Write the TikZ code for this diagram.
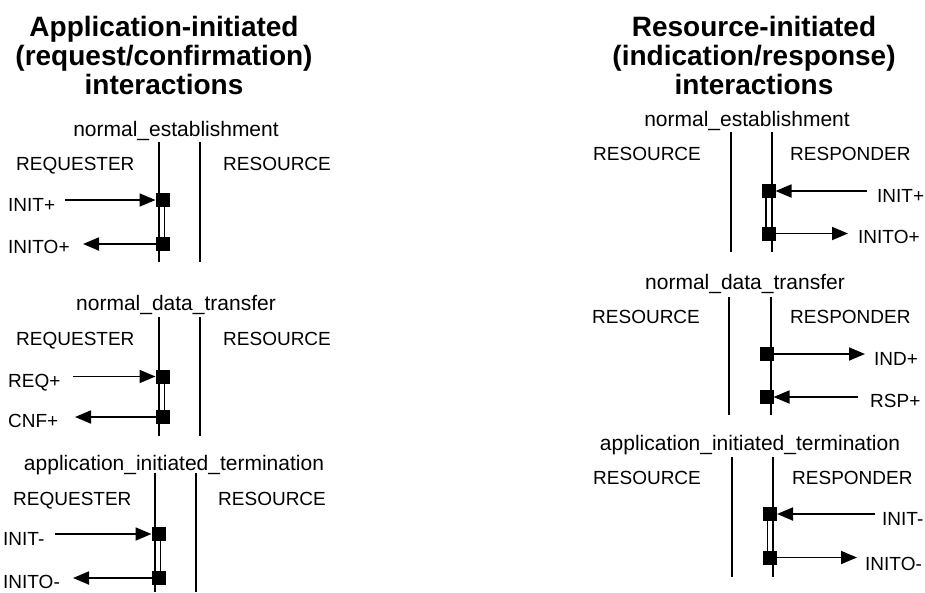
\documentclass[tikz,border=0pt]{standalone}
\usepackage{fontspec}
\setmainfont{Liberation Sans}
\usetikzlibrary{arrows.meta}

\tikzset{
  lifeline/.style={line width=1.8pt},
  dbl/.style={line width=1.5pt},
  port/.style={fill=black, draw=none, minimum size=14pt, inner sep=0pt, outer sep=0pt},
  msg/.style={line width=1.8pt, -{Triangle[length=16pt,width=13pt]}},
  lbl/.style={font=\fontsize{19}{22}\selectfont, anchor=base west, inner sep=0pt},
  phase/.style={font=\fontsize{21}{24}\selectfont, anchor=base, inner sep=0pt},
  head/.style={font=\fontsize{28}{29}\selectfont\bfseries, align=center, anchor=north, inner sep=0pt}
}

\begin{document}
\begin{tikzpicture}[x=1pt, y=-1pt]
\useasboundingbox (0,0) rectangle (925,592);

% ---------- column headings ----------
\node[head] (hleft) at (164,16) {Application-initiated\\(request/confirmation)\\interactions};
\node[head] (hright) at (754,16) {Resource-initiated\\(indication/response)\\interactions};

% ================= application-initiated side =================
% normal establishment
\node[phase] (ne1) at (176,136) {normal\_establishment};
\coordinate (ne1Lt) at (159,142); \coordinate (ne1Lb) at (159,262);
\coordinate (ne1Rt) at (200,142); \coordinate (ne1Rb) at (200,262);
\draw[lifeline] (ne1Lt) -- (ne1Lb);
\draw[lifeline] (ne1Rt) -- (ne1Rb);
\node[lbl] (ne1req) at (16,170) {REQUESTER};
\node[lbl] (ne1res) at (223,170) {RESOURCE};
\node[port] (a1) at (162.5,200) {};
\node[port] (a2) at (162.5,244) {};
\draw[dbl] ([xshift=2pt]a1.south) -- ([xshift=2pt]a2.north);
\node[lbl] (initp) at (8,211) {INIT+};
\node[lbl] (initop) at (8,253) {INITO+};
\coordinate (a1s) at (65,200);
\coordinate (a2t) at (83,244);
\draw[msg] (a1s) -- (a1);
\draw[msg] (a2) -- (a2t);

% normal data transfer
\node[phase] (nd1) at (176,310) {normal\_data\_transfer};
\coordinate (nd1Lt) at (159,317); \coordinate (nd1Lb) at (159,436);
\coordinate (nd1Rt) at (200,317); \coordinate (nd1Rb) at (200,436);
\draw[lifeline] (nd1Lt) -- (nd1Lb);
\draw[lifeline] (nd1Rt) -- (nd1Rb);
\node[lbl] (nd1req) at (16,345) {REQUESTER};
\node[lbl] (nd1res) at (223,345) {RESOURCE};
\node[port] (b1) at (162.5,376.5) {};
\node[port] (b2) at (162.5,417) {};
\draw[dbl] ([xshift=2pt]b1.south) -- ([xshift=2pt]b2.north);
\node[lbl] (reqp) at (8,387) {REQ+};
\node[lbl] (cnfp) at (8,427) {CNF+};
\coordinate (b1s) at (73,376.5);
\coordinate (b2t) at (75,417);
\draw[msg] (b1s) -- (b1);
\draw[msg] (b2) -- (b2t);

% application initiated termination
\node[phase] (at1) at (174,470) {application\_initiated\_termination};
\coordinate (at1Lt) at (155,473); \coordinate (at1Lb) at (155,592);
\coordinate (at1Rt) at (196,473); \coordinate (at1Rb) at (196,592);
\draw[lifeline] (at1Lt) -- (at1Lb);
\draw[lifeline] (at1Rt) -- (at1Rb);
\node[lbl] (at1req) at (13,505) {REQUESTER};
\node[lbl] (at1res) at (218,505) {RESOURCE};
\node[port] (c1) at (158.5,534) {};
\node[port] (c2) at (158.5,578) {};
\draw[dbl] ([xshift=2pt]c1.south) -- ([xshift=2pt]c2.north);
\node[lbl] (initm) at (3,545) {INIT-};
\node[lbl] (initom) at (3,588) {INITO-};
\coordinate (c1s) at (55,534);
\coordinate (c2t) at (73,578);
\draw[msg] (c1s) -- (c1);
\draw[msg] (c2) -- (c2t);

% ================= resource-initiated side =================
% normal establishment
\node[phase] (ne2) at (747,126) {normal\_establishment};
\coordinate (ne2Lt) at (731,132); \coordinate (ne2Lb) at (731,252);
\coordinate (ne2Rt) at (772,132); \coordinate (ne2Rb) at (772,252);
\draw[lifeline] (ne2Lt) -- (ne2Lb);
\draw[lifeline] (ne2Rt) -- (ne2Rb);
\node[lbl] (ne2res) at (593,160) {RESOURCE};
\node[lbl] (ne2rsp) at (790,160) {RESPONDER};
\node[port] (d1) at (768.5,191) {};
\node[port] (d2) at (768.5,233.5) {};
\draw[dbl] ([xshift=-2.5pt]d1.south) -- ([xshift=-2.5pt]d2.north);
\node[lbl] (rinitp) at (877,202) {INIT+};
\node[lbl] (rinitop) at (858,243) {INITO+};
\coordinate (d1s) at (867,191);
\coordinate (d2t) at (848,233.5);
\draw[msg] (d1s) -- (d1);
\draw[msg] (d2) -- (d2t);

% normal data transfer
\node[phase] (nd2) at (745,289) {normal\_data\_transfer};
\coordinate (nd2Lt) at (729,297); \coordinate (nd2Lb) at (729,415);
\coordinate (nd2Rt) at (771,297); \coordinate (nd2Rb) at (771,415);
\draw[lifeline] (nd2Lt) -- (nd2Lb);
\draw[lifeline] (nd2Rt) -- (nd2Rb);
\node[lbl] (nd2res) at (592,323) {RESOURCE};
\node[lbl] (nd2rsp) at (790,323) {RESPONDER};
\node[port] (e1) at (766.5,354) {};
\node[port] (e2) at (766.5,397) {};
\node[lbl] (indp) at (874,365) {IND+};
\node[lbl] (rspp) at (870,407) {RSP+};
\coordinate (e1t) at (865,354);
\coordinate (e2s) at (858,397);
\draw[msg] (e1) -- (e1t);
\draw[msg] (e2s) -- (e2);

% application initiated termination
\node[phase] (at2) at (750,450) {application\_initiated\_termination};
\coordinate (at2Lt) at (732,457); \coordinate (at2Lb) at (732,577);
\coordinate (at2Rt) at (773,457); \coordinate (at2Rb) at (773,577);
\draw[lifeline] (at2Lt) -- (at2Lb);
\draw[lifeline] (at2Rt) -- (at2Rb);
\node[lbl] (at2res) at (593,484) {RESOURCE};
\node[lbl] (at2rsp) at (792,484) {RESPONDER};
\node[port] (f1) at (770,514) {};
\node[port] (f2) at (770,557.5) {};
\draw[dbl] ([xshift=-2.5pt]f1.south) -- ([xshift=-2.5pt]f2.north);
\node[lbl] (rinitm) at (882,525) {INIT-};
\node[lbl] (rinitom) at (865,570) {INITO-};
\coordinate (f1s) at (875,514);
\coordinate (f2t) at (857,557.5);
\draw[msg] (f1s) -- (f1);
\draw[msg] (f2) -- (f2t);
\end{tikzpicture}
\end{document}
